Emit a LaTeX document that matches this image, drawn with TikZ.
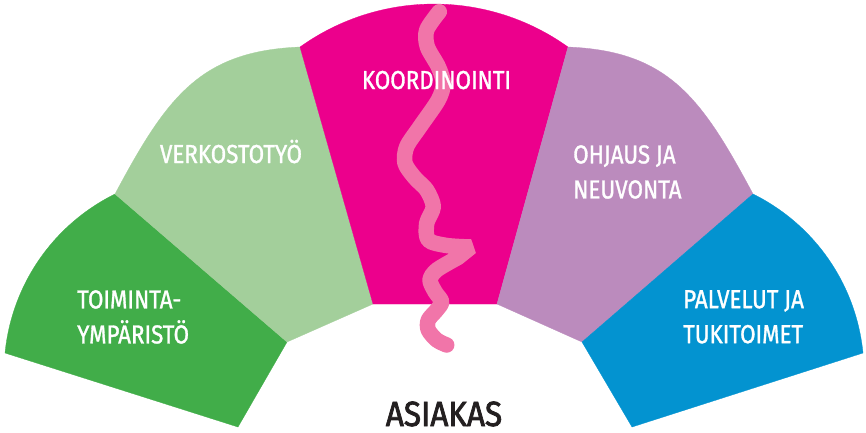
\documentclass[tikz,border=0pt]{standalone}
\usepackage{fontspec}
\setmainfont{Fira Sans}
\newfontfamily\labelfont[FakeStretch=0.86, FakeBold=1.2]{Fira Sans}
\newfontfamily\basefont[FakeStretch=0.9, FakeBold=2.2]{Fira Sans}
\usepackage{tikz}

\definecolor{fieldgreen}{HTML}{41AD49}
\definecolor{palegreen}{HTML}{A3CF9B}
\definecolor{koordpink}{HTML}{EC008C}
\definecolor{lilac}{HTML}{BB8BBD}
\definecolor{servblue}{HTML}{0393D0}
\definecolor{wavepink}{HTML}{F175A9}
\definecolor{inkdark}{HTML}{231F20}

\begin{document}
\begin{tikzpicture}[x=1pt,y=-1pt,
  label_text/.style={text=white, inner sep=0pt, align=left, font=\labelfont\fontsize{26}{35}\selectfont},
  sector/.style={fill=#1, draw=#1, line width=0.3pt}]
\useasboundingbox (0,0) rectangle (866,432);
% outer and inner corners of the fan
\coordinate (out_a) at (5,353);
\coordinate (out_b) at (115,194);
\coordinate (out_c) at (300,47);
\coordinate (out_d) at (568,47);
\coordinate (out_e) at (753,194);
\coordinate (out_f) at (863,353);
\coordinate (in_a) at (238,427);
\coordinate (in_b) at (287,342);
\coordinate (in_c) at (373,304);
\coordinate (in_d) at (497,304);
\coordinate (in_e) at (582,342);
\coordinate (in_f) at (632,427);
\draw[sector=fieldgreen] (out_a) .. controls (11.8,284.5) and (53.2,224.6) .. (out_b) -- (in_b) -- (in_a) -- cycle;
\draw[sector=palegreen] (out_b) .. controls (166.7,97.2) and (200,51) .. (out_c) -- (in_c) -- (in_b) -- cycle;
\draw[sector=koordpink] (out_c) .. controls (380,-10.3) and (488,-10.3) .. (out_d) -- (in_d) -- (in_c) -- cycle;
\draw[sector=lilac] (out_d) .. controls (668,51) and (701.3,97.2) .. (out_e) -- (in_e) -- (in_d) -- cycle;
\draw[sector=servblue] (out_e) .. controls (814.8,224.6) and (856.2,284.5) .. (out_f) -- (in_f) -- (in_e) -- cycle;
% the wavy line
\draw[wavepink, line width=15.5pt, line cap=round, line join=bevel]
  plot[smooth] coordinates {(439.3,11.7) (426.7,30) (427.3,46.7) (438.3,66.7) (443.3,83.3) (438.3,100) (420,126.7) (406.7,146.7) (405,163.3) (415,178) (426.7,190) (433.3,206.7) (426.7,223.3) (428.3,240) (446.7,245.5) (471,247)}
  -- plot[smooth] coordinates {(458,257.5) (436.7,270) (430,280) (435,291.7) (441.7,301.7) (436.7,310) (428.3,320) (428.3,330) (436.7,340) (446.7,345)};
% labels
\node[label_text, anchor=base] (koordinointi) at (436.5,89) {KOORDINOINTI};
\node[label_text, anchor=base] (verkostotyo) at (231,163) {VERKOSTOTYÖ};
\node[label_text, anchor=north west] (toimintaymparisto) at (77,290) {TOIMINTA-\\YMPÄRISTÖ};
\node[label_text, anchor=north west] (ohjaus) at (573,145) {OHJAUS JA\\NEUVONTA};
\node[label_text, anchor=north west] (palvelut) at (683,290) {PALVELUT JA\\TUKITOIMET};
\node[font=\basefont\fontsize{35}{40}\selectfont, text=inkdark, inner sep=0pt, anchor=base] (asiakas) at (444,426) {ASIAKAS};
\end{tikzpicture}
\end{document}
